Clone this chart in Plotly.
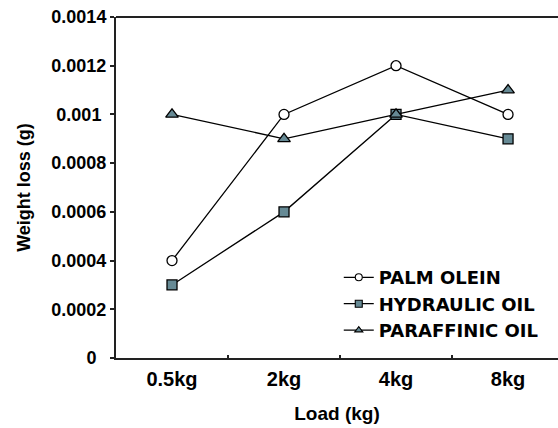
import plotly.graph_objects as go

loads = ["0.5kg", "2kg", "4kg", "8kg"]
palm_olein = [0.0004, 0.0010, 0.0012, 0.0010]
hydraulic_oil = [0.0003, 0.0006, 0.0010, 0.0009]
paraffinic_oil = [0.0010, 0.0009, 0.0010, 0.0011]
series_names = ["PALM OLEIN", "HYDRAULIC OIL", "PARAFFINIC OIL"]
y_tick_vals = [0, 0.0002, 0.0004, 0.0006, 0.0008, 0.0010, 0.0012, 0.0014]
y_tick_text = ["0\u00a0\u00a0", "0.0002", "0.0004", "0.0006", "0.0008", "0.001\u00a0",
               "0.0012", "\u00a0\u00a0\u00a00.0014"]

FONT = "Liberation Sans, Arial, sans-serif"
LEGFONT = "DejaVu Sans, sans-serif"
FILL = "#668a95"

series = [palm_olein, hydraulic_oil, paraffinic_oil]
symbols = ["circle", "square", "triangle-up"]
fills = ["white", FILL, FILL]
sizes = [10, 10, 11]

fig = go.Figure()
for name, vals, sym, fc, sz in zip(series_names, series, symbols, fills, sizes):
    fig.add_trace(go.Scatter(
        x=loads, y=vals, name=name, mode="lines+markers", showlegend=False,
        line=dict(color="black", width=1.3),
        marker=dict(symbol=sym, size=sz, color=fc, line=dict(color="black", width=1.3)),
    ))
# legend entries (smaller symbols, as in the reference key)
for name, sym, fc in zip(series_names, symbols, fills):
    fig.add_trace(go.Scatter(
        x=[None], y=[None], name=name, mode="lines+markers", showlegend=True,
        line=dict(color="black", width=1.3),
        marker=dict(symbol=sym, size=7, color=fc, line=dict(color="black", width=1.1)),
    ))

fig.update_layout(
    width=558, height=428,
    margin=dict(l=116, r=0, t=17, b=70),
    paper_bgcolor="white", plot_bgcolor="white",
    font=dict(family=FONT, size=17, color="black", weight="bold"),
    legend=dict(
        x=0.504, y=0.29, xanchor="left", yanchor="top",
        bgcolor="rgba(0,0,0,0)", borderwidth=0,
        font=dict(family=LEGFONT, size=18, color="black", weight="bold"),
        tracegroupgap=0, itemwidth=30,
    ),
    xaxis=dict(
        type="category", range=[-0.5, 3.446],
        showline=True, linecolor="#222", linewidth=2,
        ticks="inside", tickson="boundaries", ticklen=3, tickcolor="#222", tickwidth=1.5,
        showgrid=False, zeroline=False, ticklabelstandoff=2,
        tickfont=dict(family=FONT, size=20, color="black", weight="bold"),
        title=dict(text="Load (kg)", standoff=18,
                   font=dict(family=FONT, size=19, color="black", weight="bold")),
    ),
    yaxis=dict(
        range=[0, 0.0014],
        tickmode="array", tickvals=y_tick_vals, ticktext=y_tick_text,
        showline=True, linecolor="#222", linewidth=2,
        ticks="outside", ticklen=4, tickcolor="#222", tickwidth=1.5,
        showgrid=False, zeroline=False, ticklabeloverflow="allow",
        tickfont=dict(family=FONT, size=18, color="black", weight="bold"),
        title=dict(text="Weight loss (g)", standoff=1,
                   font=dict(family=FONT, size=18, color="black", weight="bold")),
    ),
)
fig.add_shape(type="line", xref="paper", yref="paper", x0=0, x1=1, y0=1, y1=1,
              line=dict(color="#222", width=2))

fig.write_html("out.html", config={"displayModeBar": False},
               post_script="document.body.style.margin='0';document.body.style.overflow='hidden';")
